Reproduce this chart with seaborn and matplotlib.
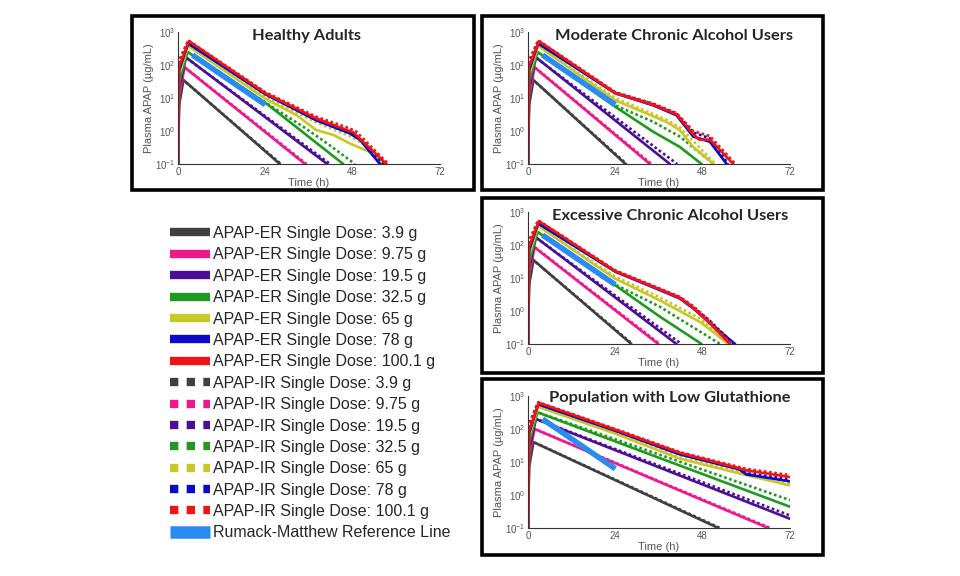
import numpy as np
import pandas as pd
import matplotlib
matplotlib.use("Agg")
import matplotlib.pyplot as plt
from matplotlib.lines import Line2D
from matplotlib.patches import Rectangle
import seaborn as sns

sns.set_style("white")
plt.rcParams['font.family'] = ['Liberation Sans', 'DejaVu Sans']
plt.rcParams['mathtext.fontset'] = 'custom'
plt.rcParams['mathtext.rm'] = 'Liberation Sans'
plt.rcParams['mathtext.it'] = 'Liberation Sans:italic'
plt.rcParams['mathtext.bf'] = 'Liberation Sans:bold'

# ---------------- data ----------------
DOSES = ['3.9', '9.75', '19.5', '32.5', '65', '78', '100.1']
COLORS = ['#404040', '#f0168c', '#4b0f96', '#1e9b1e', '#c8c828', '#0a0ac8', '#f01414']
RM_COLOR = '#2a8cf0'

PANEL_TITLES = ['Healthy Adults', 'Moderate Chronic Alcohol Users',
                'Excessive Chronic Alcohol Users', 'Population with Low Glutathione']
X_TICKS = [0, 24, 48, 72]
Y_TICKS = [0.1, 1, 10, 100, 1000]
Y_TICKLABELS = [r'$10^{-1}$', r'$10^{0}$', r'$10^{1}$', r'$10^{2}$', r'$10^{3}$']

# Rumack-Matthew reference line (time h, conc ug/mL)
RM_T = [4, 24]
RM_C = [200, 6.25]

# Healthy adults
HA_ER = {
    '3.9': ([0, 0.3, 1.5, 28.0], [0.1, 6, 35, 0.1]),
    '9.75': ([0, 0.3, 1.8, 34.9], [0.1, 12, 85, 0.1]),
    '19.5': ([0, 0.3, 2.2, 41.0], [0.1, 20, 170, 0.1]),
    '32.5': ([0, 0.3, 2.6, 24.3, 45.4], [0.1, 30, 250, 6.8, 0.1]),
    '65': ([0, 0.3, 2.8, 24, 32.6, 38, 42.7, 47.2, 52.8, 56.4],
           [0.1, 50, 380, 9.5, 3, 1.07, 0.76, 0.42, 0.23, 0.1]),
    '78': ([0, 0.3, 2.8, 24, 38, 47.2, 50, 55.5], [0.1, 70, 450, 13, 2.1, 0.85, 0.54, 0.1]),
    '100.1': ([0, 0.3, 3.0, 24, 38, 48.2, 57.3], [0.1, 90, 530, 14, 2.4, 0.9, 0.1]),
}
HA_IR = {
    '3.9': ([0, 0.2, 1.2, 28.3], [0.1, 10, 37, 0.1]),
    '9.75': ([0, 0.2, 1.5, 35.3], [0.1, 25, 92, 0.1]),
    '19.5': ([0, 0.2, 1.8, 41.8], [0.1, 45, 180, 0.1]),
    '32.5': ([0, 0.2, 2.2, 24.3, 34.4, 41.7, 48.6], [0.1, 60, 265, 7.0, 1.35, 0.37, 0.1]),
    '65': ([0, 0.2, 2.5, 24, 38, 47.2, 53, 56.8], [0.1, 90, 400, 11, 1.8, 0.7, 0.3, 0.1]),
    '78': ([0, 0.2, 2.6, 24, 38, 47.2, 50, 56.5], [0.1, 110, 470, 13.5, 2.3, 0.95, 0.6, 0.1]),
    '100.1': ([0, 0.2, 2.8, 24, 38, 47.2, 49, 57.8], [0.1, 130, 560, 15, 2.7, 1.2, 0.95, 0.1]),
}

# Moderate chronic alcohol users
MC_ER = {
    '3.9': ([0, 0.3, 1.5, 26.8], [0.1, 6, 35, 0.1]),
    '9.75': ([0, 0.3, 1.8, 33.5], [0.1, 12, 85, 0.1]),
    '19.5': ([0, 0.3, 2.2, 39.0], [0.1, 20, 170, 0.1]),
    '32.5': ([0, 0.3, 2.6, 24, 34.4, 41.7, 47.7], [0.1, 30, 250, 5.4, 0.95, 0.33, 0.1]),
    '65': ([0, 0.3, 2.8, 24, 38, 41.7, 45.4, 51], [0.1, 50, 380, 8.5, 1.9, 1.07, 0.33, 0.1]),
    '78': ([0, 0.3, 2.8, 24, 34.4, 40.8, 45.4, 50, 54.6],
           [0.1, 70, 450, 13.8, 6, 3, 0.68, 0.47, 0.1]),
    '100.1': ([0, 0.3, 3.0, 24, 34.4, 40.8, 45.4, 47, 50, 53, 56.4],
              [0.1, 90, 530, 14, 6.2, 3.2, 0.8, 0.55, 0.55, 0.25, 0.1]),
}
MC_IR = {
    '3.9': ([0, 0.2, 1.2, 27.1], [0.1, 10, 37, 0.1]),
    '9.75': ([0, 0.2, 1.5, 33.9], [0.1, 25, 92, 0.1]),
    '19.5': ([0, 0.2, 1.8, 41.0], [0.1, 45, 180, 0.1]),
    '32.5': ([0, 0.2, 2.2, 24, 34.4, 41.7, 51], [0.1, 60, 265, 6, 1.9, 0.68, 0.1]),
    '65': ([0, 0.2, 2.5, 24, 38, 41.7, 45.4, 51.5], [0.1, 90, 400, 10, 2.2, 1.3, 0.5, 0.1]),
    '78': ([0, 0.2, 2.6, 24, 34.4, 40.8, 45.4, 50, 55],
           [0.1, 110, 470, 14.5, 6.5, 3.3, 0.9, 0.6, 0.1]),
    '100.1': ([0, 0.2, 2.8, 24, 34.4, 40.8, 45.4, 50, 57],
              [0.1, 130, 560, 15, 6.8, 3.5, 1.0, 0.7, 0.1]),
}

# Excessive chronic alcohol users
EC_ER = {
    '3.9': ([0, 0.3, 1.5, 28.4], [0.1, 6, 35, 0.1]),
    '9.75': ([0, 0.3, 1.8, 35.8], [0.1, 12, 85, 0.1]),
    '19.5': ([0, 0.3, 2.2, 40.8], [0.1, 20, 170, 0.1]),
    '32.5': ([0, 0.3, 2.6, 24, 36.2, 47.7], [0.1, 30, 250, 6, 0.68, 0.1]),
    '65': ([0, 0.3, 2.8, 24, 36.2, 47.2, 50.5, 55], [0.1, 50, 380, 9.5, 2.1, 0.47, 0.25, 0.1]),
    '78': ([0, 0.3, 2.8, 24, 36.2, 41.7, 45.4, 50, 56.9],
           [0.1, 70, 450, 15.5, 4.3, 2.4, 1.2, 0.43, 0.1]),
    '100.1': ([0, 0.3, 3.0, 24, 36.2, 41.7, 45.4, 50, 55.5],
              [0.1, 90, 530, 16, 4.5, 2.5, 1.25, 0.42, 0.1]),
}
EC_IR = {
    '3.9': ([0, 0.2, 1.2, 28.7], [0.1, 10, 37, 0.1]),
    '9.75': ([0, 0.2, 1.5, 36.2], [0.1, 25, 92, 0.1]),
    '19.5': ([0, 0.2, 1.8, 42.2], [0.1, 45, 180, 0.1]),
    '32.5': ([0, 0.2, 2.2, 24, 36.2, 52.8], [0.1, 60, 265, 6.3, 1.35, 0.1]),
    '65': ([0, 0.2, 2.5, 24, 36.2, 47.2, 55.5], [0.1, 90, 400, 11, 2.6, 0.6, 0.1]),
    '78': ([0, 0.2, 2.6, 24, 36.2, 41.7, 45.4, 50, 56.5],
           [0.1, 110, 470, 16, 4.6, 2.6, 1.3, 0.5, 0.1]),
    '100.1': ([0, 0.2, 2.8, 24, 36.2, 41.7, 45.4, 50, 56],
              [0.1, 130, 560, 17, 4.8, 2.7, 1.4, 0.5, 0.1]),
}

# Population with low glutathione
LG_ER = {
    '3.9': ([0, 0.3, 1.5, 52.3], [0.1, 7, 40, 0.1]),
    '9.75': ([0, 0.3, 1.8, 66], [0.1, 15, 100, 0.1]),
    '19.5': ([0, 0.3, 2.2, 72], [0.1, 25, 200, 0.19]),
    '32.5': ([0, 0.3, 2.6, 72], [0.1, 40, 320, 0.44]),
    '65': ([0, 0.3, 2.8, 24, 41.7, 60, 72], [0.1, 60, 470, 72, 12.6, 4, 1.95]),
    '78': ([0, 0.3, 2.8, 24, 41.7, 58, 60, 72], [0.1, 75, 560, 88, 17, 6, 4.2, 2.6]),
    '100.1': ([0, 0.3, 3.0, 24, 41.7, 60, 72], [0.1, 90, 620, 95, 19, 5.6, 3.5]),
}
LG_IR = {
    '3.9': ([0, 0.2, 1.2, 52.8], [0.1, 12, 42, 0.1]),
    '9.75': ([0, 0.2, 1.5, 66.6], [0.1, 30, 105, 0.1]),
    '19.5': ([0, 0.2, 1.8, 72], [0.1, 50, 210, 0.24]),
    '32.5': ([0, 0.2, 2.2, 72], [0.1, 70, 335, 0.7]),
    '65': ([0, 0.2, 2.5, 24, 41.7, 60, 72], [0.1, 100, 490, 78, 14, 4.6, 2.3]),
    '78': ([0, 0.2, 2.6, 24, 41.7, 58, 60, 72], [0.1, 120, 580, 92, 18.5, 6.5, 4.6, 3.0]),
    '100.1': ([0, 0.2, 2.8, 24, 41.7, 60, 72], [0.1, 140, 650, 100, 20, 6.2, 4.0]),
}

PANELS = [(HA_ER, HA_IR), (MC_ER, MC_IR), (EC_ER, EC_IR), (LG_ER, LG_IR)]

# ---------------- layout (pixels, origin top-left) ----------------
W, H = 960, 576
def frac(x0, y0, x1, y1):
    return [x0 / W, 1 - y1 / H, (x1 - x0) / W, (y1 - y0) / H]

AX_PIX = [(178, 32, 440, 164), (528, 32, 790, 164), (528, 212, 790, 344), (528, 396, 790, 528)]
BOX_PIX = [(132, 16, 474, 190), (482, 16, 823, 190), (482, 198, 823, 373), (482, 379, 823, 555)]
TITLE_PIX = [(307, 36), (674, 36), (670, 216), (670, 398)]

fig = plt.figure(figsize=(9.6, 5.76), dpi=100)
fig.patch.set_facecolor('white')

for (x0, y0, x1, y1) in BOX_PIX:
    fig.add_artist(Rectangle((x0 / W, 1 - y1 / H), (x1 - x0) / W, (y1 - y0) / H,
                             transform=fig.transFigure, fill=False, lw=2.6, ec='black'))

palette = dict(zip(DOSES, COLORS))
for i, (er, ir) in enumerate(PANELS):
    ax = fig.add_axes(frac(*AX_PIX[i]))
    rows = []
    for form, d in (('ER', er), ('IR', ir)):
        for dose in DOSES:
            t, c = d[dose]
            rows.append(pd.DataFrame({'t': t, 'c': c, 'dose': dose, 'form': form}))
    df = pd.concat(rows, ignore_index=True)
    sns.lineplot(data=df, x='t', y='c', hue='dose', style='form', hue_order=DOSES,
                 style_order=['ER', 'IR'], palette=palette,
                 dashes={'ER': '', 'IR': (1, 1)}, estimator=None, sort=False,
                 legend=False, lw=1.9, ax=ax)
    sns.lineplot(x=RM_T, y=RM_C, color=RM_COLOR, lw=4.0, ax=ax, legend=False,
                 solid_capstyle='butt')
    ax.set_yscale('log')
    ax.set_xlim(0, 72)
    ax.set_ylim(0.1, 1000)
    ax.set_xticks(X_TICKS)
    ax.set_xticklabels([str(v) for v in X_TICKS])
    ax.set_yticks(Y_TICKS)
    ax.set_yticklabels(Y_TICKLABELS)
    ax.tick_params(axis='both', which='major', direction='in', length=3.5, width=0.8,
                   colors='#333333', labelcolor='#555555', labelsize=7, pad=2)
    ax.tick_params(axis='y', which='minor', direction='in', length=2, width=0.6,
                   colors='#333333')
    for s in ('top', 'right'):
        ax.spines[s].set_visible(False)
    for s in ('left', 'bottom'):
        ax.spines[s].set_color('#333333')
        ax.spines[s].set_linewidth(0.8)
    ax.set_facecolor('none')
    ax.set_xlabel('Time (h)', fontsize=8, color='#555555', labelpad=1)
    ax.set_ylabel('Plasma APAP (\u00b5g/mL)', fontsize=8, color='#555555', labelpad=0.5)
    tx, ty = TITLE_PIX[i]
    fig.text(tx / W, 1 - ty / H, PANEL_TITLES[i], ha='center', va='center',
             fontsize=11.8, fontweight='bold', family=['Lato', 'DejaVu Sans'])

# ---------------- legend ----------------
handles, labels = [], []
for dose, col in zip(DOSES, COLORS):
    handles.append(Line2D([], [], color=col, lw=6, solid_capstyle='butt'))
    labels.append(f'APAP-ER Single Dose: {dose} g')
for dose, col in zip(DOSES, COLORS):
    handles.append(Line2D([], [], color=col, lw=6, dashes=(1, 1), dash_capstyle='butt'))
    labels.append(f'APAP-IR Single Dose: {dose} g')
handles.append(Line2D([], [], color=RM_COLOR, lw=9, solid_capstyle='butt'))
labels.append('Rumack-Matthew Reference Line')

fig.legend(handles, labels, loc='upper left', bbox_to_anchor=(170 / W, 1 - 226 / H),
           frameon=False, fontsize=11.5, handlelength=2.5, handletextpad=0.18,
           labelspacing=0.4, borderpad=0, borderaxespad=0)

fig.savefig('out.png', dpi=100, facecolor='white')
